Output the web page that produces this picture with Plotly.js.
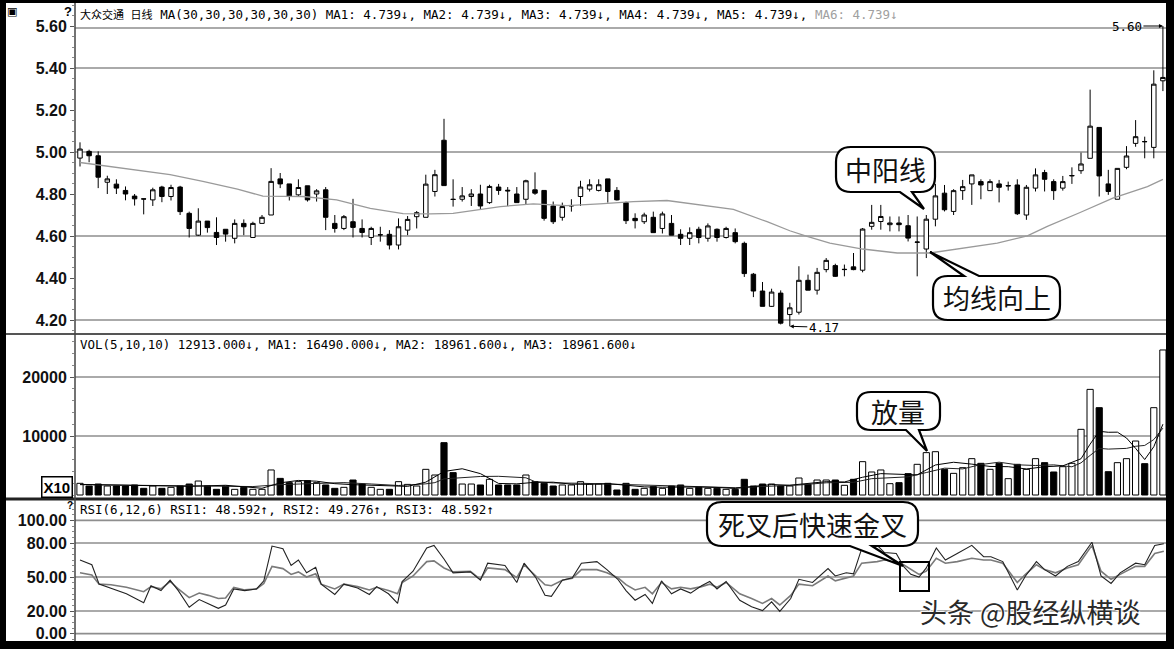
<!DOCTYPE html>
<html><head><meta charset="utf-8">
<script src="https://cdn.plot.ly/plotly-3.0.1.min.js"></script>
<style>html,body{margin:0;padding:0;background:#fff;}#chart{width:1174px;height:649px;}</style>
</head><body><div id="chart"></div>
<script>
// ---------- data ----------
const open=[4.971,5.003,4.982,4.856,4.847,4.817,4.790,4.777,4.772,4.833,
4.788,4.833,4.708,4.604,4.671,4.617,4.632,4.589,4.660,4.593,
4.660,4.700,4.872,4.848,4.796,4.839,4.800,4.820,4.660,4.636,
4.668,4.636,4.593,4.605,4.608,4.557,4.628,4.692,4.689,4.812,
5.056,4.775,4.775,4.788,4.800,4.759,4.833,4.818,4.800,4.775,
4.820,4.817,4.743,4.689,4.743,4.788,4.823,4.817,4.872,4.817,
4.759,4.684,4.668,4.689,4.636,4.660,4.608,4.589,4.632,4.589,
4.632,4.593,4.616,4.565,4.418,4.338,4.265,4.328,4.226,4.237,
4.389,4.342,4.440,4.459,4.440,4.453,4.437,4.646,4.669,4.654,
4.662,4.649,4.570,4.538,4.680,4.804,4.717,4.816,4.848,4.859,
4.816,4.848,4.838,4.843,4.700,4.828,4.902,4.859,4.828,4.886,
4.911,4.970,5.117,4.848,4.775,4.927,5.041,5.050,5.022,5.339];
const high=[5.046,5.011,5.003,4.887,4.870,4.836,4.800,4.778,4.830,4.839,
4.844,4.839,4.716,4.732,4.671,4.689,4.632,4.679,4.679,4.668,
4.700,4.923,4.900,4.848,4.870,4.839,4.823,4.833,4.700,4.700,
4.777,4.679,4.644,4.644,4.628,4.684,4.695,4.719,4.892,4.915,
5.158,4.870,4.833,4.823,4.844,4.844,4.848,4.833,4.833,4.868,
4.903,4.817,4.764,4.759,4.775,4.863,4.870,4.870,4.872,4.833,
4.764,4.708,4.711,4.716,4.716,4.700,4.632,4.641,4.644,4.660,
4.636,4.644,4.636,4.573,4.424,4.381,4.349,4.341,4.282,4.456,
4.416,4.448,4.495,4.468,4.464,4.519,4.638,4.748,4.748,4.693,
4.693,4.700,4.693,4.700,4.848,4.843,4.823,4.867,4.891,4.870,
4.870,4.867,4.859,4.870,4.843,4.922,4.915,4.870,4.886,4.927,
4.997,5.297,5.117,4.915,4.922,5.028,5.152,5.073,5.389,5.600];
const low=[4.931,4.951,4.828,4.800,4.800,4.770,4.745,4.703,4.743,4.761,
4.769,4.700,4.593,4.600,4.616,4.557,4.573,4.565,4.604,4.593,
4.660,4.700,4.828,4.769,4.788,4.764,4.764,4.628,4.616,4.628,
4.593,4.593,4.557,4.573,4.536,4.536,4.604,4.636,4.689,4.788,
4.840,4.740,4.764,4.743,4.724,4.753,4.796,4.743,4.759,4.748,
4.796,4.673,4.657,4.673,4.716,4.743,4.812,4.812,4.759,4.769,
4.657,4.636,4.657,4.616,4.612,4.604,4.557,4.557,4.565,4.573,
4.573,4.588,4.565,4.405,4.309,4.265,4.262,4.179,4.170,4.226,
4.342,4.321,4.427,4.405,4.408,4.437,4.427,4.630,4.630,4.622,
4.622,4.574,4.408,4.495,4.646,4.717,4.700,4.772,4.748,4.775,
4.816,4.760,4.816,4.700,4.677,4.812,4.812,4.772,4.816,4.848,
4.896,4.970,4.788,4.796,4.775,4.918,5.025,4.970,4.970,5.290];
const close=[5.014,4.982,4.880,4.872,4.828,4.800,4.777,4.776,4.820,4.788,
4.831,4.716,4.636,4.671,4.640,4.593,4.609,4.660,4.644,4.660,
4.689,4.860,4.848,4.790,4.831,4.772,4.815,4.689,4.636,4.692,
4.641,4.617,4.636,4.606,4.557,4.644,4.679,4.711,4.847,4.892,
4.840,4.774,4.791,4.800,4.743,4.836,4.817,4.815,4.759,4.863,
4.804,4.684,4.668,4.740,4.745,4.833,4.844,4.844,4.812,4.772,
4.673,4.673,4.700,4.616,4.705,4.604,4.589,4.616,4.593,4.648,
4.593,4.636,4.573,4.421,4.338,4.265,4.333,4.185,4.258,4.389,
4.342,4.427,4.484,4.408,4.441,4.440,4.633,4.665,4.693,4.662,
4.654,4.590,4.571,4.680,4.791,4.725,4.816,4.835,4.891,4.843,
4.859,4.832,4.840,4.706,4.832,4.891,4.870,4.816,4.859,4.888,
4.943,5.123,4.886,4.812,4.922,4.981,5.073,5.049,5.323,5.355];
const volume=[1980,1525,1860,1525,1525,1525,1700,1130,1525,1130,
1300,1525,1860,2370,1525,960,1525,960,1300,960,
960,4240,2820,2090,2260,2430,2090,1700,1130,1300,
2540,1860,1300,960,960,2260,1800,1525,4350,3390,
8870,3790,1860,1860,1700,2660,1700,1700,1700,3390,
2260,1980,1525,1700,1700,2260,1860,1860,1980,850,
1980,960,1130,1410,1130,1525,1700,1130,1300,1130,
1130,960,960,2660,1525,1860,1860,1525,1525,2880,
1810,2540,2540,2540,1640,2660,5650,3900,4240,1920,
2090,3620,5200,7180,7340,4350,3670,4630,6160,5370,
4350,5370,2770,5200,4350,6160,5480,3900,4800,5370,
11130,17900,14800,3950,5480,6160,9150,5310,14800,24580];
// MA30 of price (gray line)
const maDay=[0,2.5,6.3,9.9,13.5,17.3,20.1,24.5,28.2,31.9,35.5,38.5,41,42.9,46.2,49.8,53.5,57.1,60.8,64.5,68.1,71.8,75.5,78,79.9,82.4,86,89.8,93.4,97,100.8,104.1,106.3,109.9,113.5,117.3,119];
const ma30=[4.950,4.936,4.915,4.892,4.860,4.823,4.790,4.788,4.772,4.732,4.707,4.705,4.708,4.720,4.740,4.753,4.745,4.753,4.764,4.769,4.748,4.727,4.668,4.625,4.598,4.566,4.538,4.519,4.519,4.543,4.566,4.601,4.646,4.712,4.780,4.835,4.870];
// volume moving averages
const volMa5Day=[0,4,8,12,16,20,22,24,26,28,30,32,34,36,38,40,42,44,46,48,50,52,54,56,58,60,62,64,66,68,70,72,74,76,78,80,82,84,86,88,90,92,94,96,98,100,102,104,106,108,110,111,112,113,114,115,116,117,118,119];
const volMa5=[1800,1680,1480,1470,1650,1140,2060,2470,2340,1920,1750,1630,1520,1460,2180,3990,4450,3620,1960,1890,2150,2170,1830,1810,1930,1710,1380,1320,1380,1360,1280,1100,1450,1770,1660,1920,2260,2210,3010,3620,3560,3410,5090,5550,5230,4840,4800,4410,4790,4940,6140,8620,10800,10630,10650,9660,7900,6010,8180,12000];
const volMa10Day=[0,5,9,14,19,22,25,29,32,35,38,39,40,42,44,46,48,49,50,52,55,59,62,65,69,72,75,79,82,85,87,89,91,93,95,97,99,101,103,105,107,109,110,111,112,113,114,115,116,117,118,119];
const volMa10=[1750,1650,1540,1560,1430,1760,1950,2100,1870,1610,1890,2100,2730,2980,3140,3170,2920,2920,2260,2050,1990,1800,1630,1470,1340,1240,1440,1690,2070,2150,2770,2940,3080,3810,4550,4420,5160,5560,5120,5000,5110,4780,5450,6710,7910,7780,7900,7900,8260,8400,9400,11330];
// RSI lines
const rsiDay=[0,1.3,2.1,3.4,5.1,7,7.8,8.9,9.9,10.8,12,13.1,14.1,15.2,16,16.9,18.1,19.4,20.2,21.1,22.3,23.2,24,24.9,25.9,26.5,28,29,30.5,31.8,32.6,33.9,34.9,35.4,36.6,38.1,38.9,40,41,42.9,44,44.8,46.7,48,48.8,50.1,51.1,51.8,53,54.1,55.1,56.8,57.9,59.1,60,61,62.1,62.9,63.9,65,66,67.1,68.3,69.2,70,71,72.5,73.8,75,76,76.9,78.1,79,80.5,82.2,83,84.2,85,85.9,87.6,88.4,89.7,90.5,91.3,92.2,93,94.1,95.1,96.4,98,99.3,100.1,101.4,103,103.9,105.1,106,107.2,108.5,109.7,111.2,112.2,113.3,114.3,116,117,118.1,119.1];
const rsi1=[65,60.8,43.7,40.3,35.2,27.3,42.3,38,47.2,38,23.3,30.1,26.7,22.4,25.3,39.5,38,39.5,46.6,77.3,75,60.2,65,53.7,58.5,43.7,34.6,43.7,40.3,34.6,41.5,35.2,26.7,46,55.1,75.6,77.9,65.9,53.7,54.5,47.2,62.2,60.2,45.2,62.2,49.4,33.8,32.9,47.2,49.4,62.2,63.6,56.5,48,38,29.5,34.6,26.7,46.6,35.2,39.5,35.8,42.3,46,39.5,46,29.5,23.8,20.4,28.1,19.6,31,48,45.2,57.4,50.9,53.7,52.8,75,77.9,71.6,70.8,59.4,52.3,50,58,75.6,65,70.8,77.9,67.9,67.9,63.6,38.6,50.9,63.6,56.5,50.9,59.4,63.6,80.7,50.9,44.3,53.7,62.2,60.8,77.9,79.3];
const rsi2=[53.7,51.7,43.7,43.2,40.9,37,41.5,39.5,46,39.5,31.8,35.8,33.8,31,31.5,40.9,38.6,39.5,44.3,59.4,57.4,52.3,54.5,50,52.8,43.7,39.5,43.7,41.5,38.6,40.9,38.1,35.2,45.2,50.9,63.6,64.2,58,54.5,55.1,48,58,56.5,49.4,60.8,50.9,43.2,42.3,47.2,48.9,56.5,56.5,53.7,49.4,43.2,38.6,40.9,35.2,45.2,39.5,40.9,39.5,41.5,43.7,40.9,45.2,35.2,31,26.7,31,25.3,33.8,43.7,42.3,50.9,46.6,49.4,50.9,62.2,63.6,65,63.6,60.8,56.5,52.3,55.1,66.5,62.2,63.6,66.5,65,65,62.2,45.2,52.3,60.8,56.5,53.7,58,60.8,77.9,55.1,48,52.3,59.4,59.4,70.8,72.7];
// axis ticks / grid
const priceTicks=[5.6,5.4,5.2,5.0,4.8,4.6,4.4,4.2];
const priceTickText=['5.60','5.40','5.20','5.00','4.80','4.60','4.40','4.20'];
const priceGrid=[4.2,4.6,5.0,5.4];
const volTicks=[10000,20000];
const volTickText=['10000','20000'];
const volGrid=[10000,20000];
const rsiTicks=[0,20,50,80,100];
const rsiTickText=['0.00','20.00','50.00','80.00','100.00'];
const rsiGrid=[0,20,50,80,100];
const priceHeader='<span style="font-size:11px">大众交通 日线</span> MA(30,30,30,30,30,30) MA1: 4.739↓, MA2: 4.739↓, MA3: 4.739↓, MA4: 4.739↓, MA5: 4.739↓, <span style="color:#a0a0a0">MA6: 4.739↓</span>';
const volHeader='VOL(5,10,10) 12913.000↓, MA1: 16490.000↓, MA2: 18961.600↓, MA3: 18961.600↓';
const rsiHeader='RSI(6,12,6) RSI1: 48.592↑, RSI2: 49.276↑, RSI3: 48.592↑';

// ---------- layout helpers ----------
const W=1174,H=649;
const PX=x=>x/W, PY=y=>1-y/H;
const pr=y=>5.00-(y-152)/210;
const vl=y=>(495-y)/59*10000;
const rs=y=>80-(y-543)/(34/30);
const days=open.map((_,i)=>i);
const volColors=close.map((c,i)=>c>=open[i]?'#ffffff':'#000000');

const traces=[
 {type:'candlestick',x:days,open:open,high:high,low:low,close:close,xaxis:'x',yaxis:'y',
  increasing:{line:{color:'#000',width:1},fillcolor:'#ffffff'},
  decreasing:{line:{color:'#000',width:1},fillcolor:'#000000'},
  whiskerwidth:0,hoverinfo:'skip'},
 {type:'scatter',mode:'lines',x:maDay,y:ma30,xaxis:'x',yaxis:'y',line:{color:'#9a9a9a',width:1.3},hoverinfo:'skip'},
 {type:'bar',x:days,y:volume,xaxis:'x',yaxis:'y2',width:0.68,
  marker:{color:volColors,line:{color:'#000',width:1}},hoverinfo:'skip'},
 {type:'scatter',mode:'lines',x:volMa10Day,y:volMa10,xaxis:'x',yaxis:'y2',line:{color:'#222',width:1},hoverinfo:'skip'},
 {type:'scatter',mode:'lines',x:volMa5Day,y:volMa5,xaxis:'x',yaxis:'y2',line:{color:'#000',width:1},hoverinfo:'skip'},
 {type:'scatter',mode:'lines',x:rsiDay,y:rsi2,xaxis:'x',yaxis:'y3',line:{color:'#7a7a7a',width:1.6},hoverinfo:'skip'},
 {type:'scatter',mode:'lines',x:rsiDay,y:rsi1,xaxis:'x',yaxis:'y3',line:{color:'#222',width:1.1},hoverinfo:'skip'}
];

const tickFont={family:'Liberation Sans, Arial, sans-serif',size:16,weight:'bold',color:'#111'};
function yax(dom,rng,tv,tt,dt){
 return {domain:[PY(dom[1]),PY(dom[0])],range:rng,tickmode:'array',tickvals:tv,ticktext:tt,tickfont:tickFont,
  ticks:'outside',ticklen:4,tickwidth:1,tickcolor:'#555',showgrid:false,zeroline:false,showline:false,
  anchor:'x',fixedrange:true,
  minor:{tickmode:'linear',tick0:0,dtick:dt,ticks:'outside',ticklen:2,tickcolor:'#888',showgrid:false}};
}

const shapes=[];
function hl(y,x0,x1,color,width,layer){shapes.push({type:'line',xref:'paper',yref:'paper',x0:PX(x0),x1:PX(x1),y0:PY(y),y1:PY(y),line:{color:color,width:width},layer:layer||'above'});}
function vline(x,y0,y1,color,width){shapes.push({type:'line',xref:'paper',yref:'paper',x0:PX(x),x1:PX(x),y0:PY(y0),y1:PY(y1),line:{color:color,width:width},layer:'above'});}
function box(x0,y0,x1,y1,fill){shapes.push({type:'rect',xref:'paper',yref:'paper',x0:PX(x0),x1:PX(x1),y0:PY(y1),y1:PY(y0),fillcolor:fill,line:{width:0},layer:'above'});}
function grid(vals,yref){vals.forEach(v=>shapes.push({type:'line',xref:'paper',yref:yref,x0:PX(75),x1:PX(1166),y0:v,y1:v,line:{color:'#8e8e8e',width:1.6},layer:'below'}));}
grid(priceGrid,'y');grid(volGrid,'y2');grid(rsiGrid,'y3');
hl(28,75,1166,'#8e8e8e',1.4,'below');
hl(334,6,1166,'#555',2);
hl(499,6,1166,'#222',3);
vline(75,3,641,'#444',1.5);
// frame
box(0,0,6,649,'#000');box(1166,0,1174,649,'#000');box(0,641,1174,649,'#000');box(0,0,1174,3,'#000');

function bubble(x0,y0,x1,y1,r,t){
 const X=x=>PX(x).toFixed(5),Y=y=>PY(y).toFixed(5);
 const P=[`M${X(x0+r)},${Y(y0)}`];
 if(t.side==='top')P.push(`L${X(t.a)},${Y(y0)}`,`L${X(t.tx)},${Y(t.ty)}`,`L${X(t.b)},${Y(y0)}`);
 P.push(`L${X(x1-r)},${Y(y0)}`,`Q${X(x1)},${Y(y0)} ${X(x1)},${Y(y0+r)}`);
 P.push(`L${X(x1)},${Y(y1-r)}`,`Q${X(x1)},${Y(y1)} ${X(x1-r)},${Y(y1)}`);
 if(t.side==='bottom')P.push(`L${X(t.b)},${Y(y1)}`,`L${X(t.tx)},${Y(t.ty)}`,`L${X(t.a)},${Y(y1)}`);
 P.push(`L${X(x0+r)},${Y(y1)}`,`Q${X(x0)},${Y(y1)} ${X(x0)},${Y(y1-r)}`);
 P.push(`L${X(x0)},${Y(y0+r)}`,`Q${X(x0)},${Y(y0)} ${X(x0+r)},${Y(y0)}`,'Z');
 shapes.push({type:'path',xref:'paper',yref:'paper',path:P.join(' '),fillcolor:'#fff',line:{color:'#000',width:2.2},layer:'above'});
}
bubble(836,147,935,192,15,{side:'bottom',a:900,b:912,tx:924,ty:209});
bubble(933,276,1060,320,15,{side:'top',a:964,b:979,tx:930,ty:252});
bubble(857,392,940,430,14,{side:'bottom',a:906,b:919,tx:927,ty:451});
bubble(707,502,918,546,15,{side:'bottom',a:850,b:872,tx:903,ty:566});
shapes.push({type:'rect',xref:'paper',yref:'paper',x0:PX(900),x1:PX(929),y0:PY(591),y1:PY(562),line:{color:'#000',width:2},fillcolor:'rgba(0,0,0,0)',layer:'above'});

const mono='DejaVu Sans Mono, Noto Sans CJK SC, monospace';
const cjk='Noto Sans CJK SC, sans-serif';
function note(x,y,text,font,extra){return Object.assign({xref:'paper',yref:'paper',x:PX(x),y:PY(y),text:text,showarrow:false,font:font,xanchor:'center',yanchor:'middle'},extra||{});}
const annotations=[
 note(78,15,priceHeader,{family:mono,size:12.5,color:'#000'},{xanchor:'left'}),
 note(78,344,volHeader,{family:mono,size:12.5,color:'#000'},{xanchor:'left'}),
 note(78,509,rsiHeader,{family:mono,size:12.5,color:'#000'},{xanchor:'left'}),
 note(885,170,'中阳线',{family:cjk,size:27,color:'#111'}),
 note(997,298,'均线向上',{family:cjk,size:27,color:'#111'}),
 note(898,411,'放量',{family:cjk,size:27,color:'#111'}),
 note(812,524,'死叉后快速金叉',{family:cjk,size:27,color:'#111'}),
 note(1030,611,'头条 @股经纵横谈',{family:cjk,size:27,color:'#2a2a2a',shadow:'1px 1px 1px #fff, -1px -1px 1px #fff'}),
 note(57,487,'X10',{family:'Liberation Sans, Arial, sans-serif',size:15,weight:'bold',color:'#000'},{bordercolor:'#000',borderwidth:1.5,borderpad:1,bgcolor:'#fff'}),
 note(68,12,'?',{family:'Liberation Sans, Arial, sans-serif',size:13,weight:'bold',color:'#000'}),
 note(70,505,'?',{family:'Liberation Sans, Arial, sans-serif',size:10,weight:'bold',color:'#000'}),
 note(12,12,'▣',{family:'DejaVu Sans',size:11,color:'#000'}),
 {xref:'x',yref:'y',x:119,y:5.60,text:'5.60',showarrow:true,ax:-36,ay:0,arrowhead:2,arrowsize:0.8,arrowwidth:1,arrowcolor:'#000',font:{family:mono,size:12.5,color:'#000'}},
 {xref:'x',yref:'y',x:78,y:4.17,text:'4.17',showarrow:true,ax:34,ay:1,arrowhead:2,arrowsize:0.8,arrowwidth:1,arrowcolor:'#000',font:{family:mono,size:12.5,color:'#000'}}
];

const layout={width:W,height:H,margin:{l:0,r:0,t:0,b:0,pad:0},paper_bgcolor:'#fff',plot_bgcolor:'rgba(0,0,0,0)',
 showlegend:false,hovermode:false,
 xaxis:{domain:[PX(75),PX(1166)],range:[-0.549,119.34],visible:false,fixedrange:true,rangeslider:{visible:false}},
 yaxis:yax([4,333],[pr(333),pr(4)],priceTicks,priceTickText,0.05),
 yaxis2:yax([336,497],[vl(497),vl(336)],volTicks,volTickText,2000),
 yaxis3:yax([501,640],[rs(640),rs(501)],rsiTicks,rsiTickText,5),
 shapes:shapes,annotations:annotations};
Plotly.newPlot('chart',traces,layout,{staticPlot:true,displayModeBar:false});
</script></body></html>
